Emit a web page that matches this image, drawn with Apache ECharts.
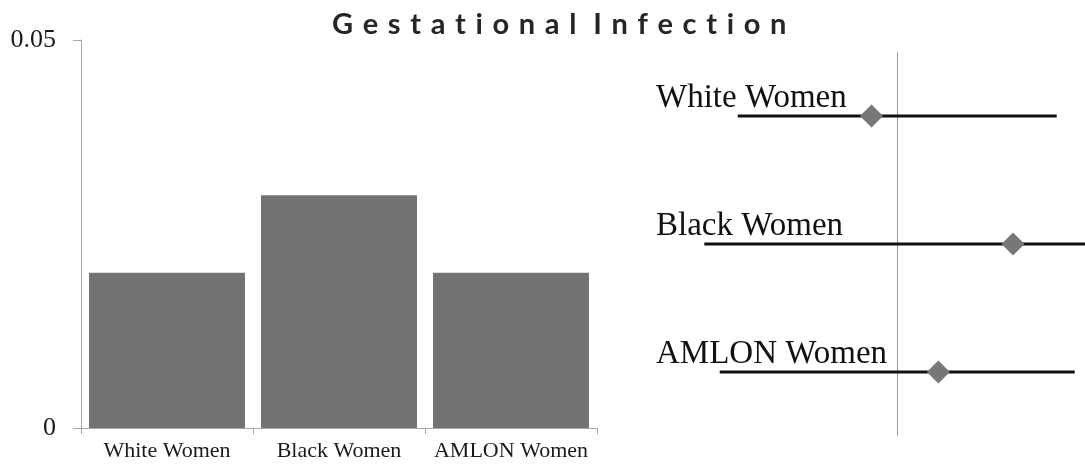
<!DOCTYPE html>
<html>
<head>
<meta charset="utf-8">
<script src="https://cdn.jsdelivr.net/npm/echarts@6/dist/echarts.min.js"></script>
<style>
  html, body { margin: 0; padding: 0; background: #ffffff; }
  #chart { width: 1085px; height: 464px; }
</style>
</head>
<body>
<div id="chart"></div>
<script>
// ---- data ----
const titleText = 'Gestational Infection';
const categories = ['White Women', 'Black Women', 'AMLON Women'];
const barValues = [0.020, 0.030, 0.020];
const yTicks = [0, 0.05];
// forest panel: point estimates and interval bounds (reference line at 1)
const estimates = [0.90, 1.45, 1.16];
const lowerBounds = [0.38, 0.25, 0.31];
const upperBounds = [1.62, 1.73, 1.69];
const referenceValue = 1;

// letter-spaced title (real text, spaced with three-per-em spaces)
const spacedTitle = titleText.split(' ')
  .map(w => w.split('').join('\u2004'))
  .join('\u2004 ');

const chart = echarts.init(document.getElementById('chart'), null, { renderer: 'canvas' });

const serif = '"Liberation Serif", "DejaVu Serif", serif';
const axisGray = '#a6a6a6';

const option = {
  backgroundColor: '#ffffff',
  animation: false,
  title: {
    text: spacedTitle,
    left: 327,
    top: 5,
    textStyle: {
      fontFamily: 'Lato, "Open Sans", sans-serif',
      fontWeight: 'bold',
      fontSize: 29,
      color: '#262626'
    }
  },
  grid: [
    { left: 81, right: 488, top: 40, bottom: 36, containLabel: false },
    { left: 640, right: 0, top: 52, bottom: 28, containLabel: false }
  ],
  xAxis: [
    {
      gridIndex: 0,
      type: 'category',
      data: categories,
      axisLine: { show: true, lineStyle: { color: axisGray, width: 1 } },
      axisTick: { show: true, length: 6, lineStyle: { color: axisGray } },
      axisLabel: { interval: 0, fontFamily: serif, fontSize: 22, color: '#1a1a1a', margin: 12 }
    },
    {
      gridIndex: 1,
      type: 'value',
      min: 0,
      max: 1.73,
      show: false
    }
  ],
  yAxis: [
    {
      gridIndex: 0,
      type: 'value',
      min: yTicks[0],
      max: yTicks[yTicks.length - 1],
      interval: yTicks[1] - yTicks[0],
      axisLine: { show: true, lineStyle: { color: axisGray, width: 1 } },
      axisTick: { show: true, length: 8, lineStyle: { color: axisGray } },
      splitLine: { show: false },
      axisLabel: {
        fontFamily: serif, fontSize: 26, color: '#1a1a1a', margin: 25,
        formatter: v => (v === 0 ? '0' : String(v))
      }
    },
    {
      gridIndex: 1,
      type: 'category',
      data: categories,
      inverse: true,
      axisLine: { show: false },
      axisTick: { show: false },
      splitLine: { show: false },
      axisLabel: {
        inside: true,
        margin: 16,
        align: 'left',
        verticalAlign: 'bottom',
        padding: [0, 0, 1, 0],
        fontFamily: serif,
        fontSize: 33,
        color: '#111111'
      }
    }
  ],
  series: [
    {
      type: 'bar',
      xAxisIndex: 0,
      yAxisIndex: 0,
      data: barValues,
      barCategoryGap: '9.3%',
      itemStyle: { color: '#737373' },
      silent: true
    },
    {
      type: 'custom',
      xAxisIndex: 1,
      yAxisIndex: 1,
      data: categories.map((c, i) => [lowerBounds[i], upperBounds[i], i]),
      encode: { x: [0, 1], y: 2 },
      clip: false,
      silent: true,
      z: 3,
      renderItem: function (params, api) {
        const a = api.coord([api.value(0), api.value(2)]);
        const b = api.coord([api.value(1), api.value(2)]);
        return {
          type: 'line',
          shape: { x1: a[0], y1: a[1], x2: b[0], y2: b[1] },
          style: { stroke: '#111111', lineWidth: 3 }
        };
      }
    },
    {
      type: 'scatter',
      xAxisIndex: 1,
      yAxisIndex: 1,
      data: estimates.map((v, i) => [v, i]),
      symbol: 'diamond',
      symbolSize: [23, 23],
      itemStyle: { color: '#777777', opacity: 1 },
      silent: true,
      z: 4,
      markLine: {
        silent: true,
        symbol: 'none',
        label: { show: false },
        lineStyle: { color: '#9a9a9a', width: 1, type: 'solid' },
        data: [{ xAxis: referenceValue }],
        z: 2
      }
    }
  ]
};

chart.setOption(option);
</script>
</body>
</html>
